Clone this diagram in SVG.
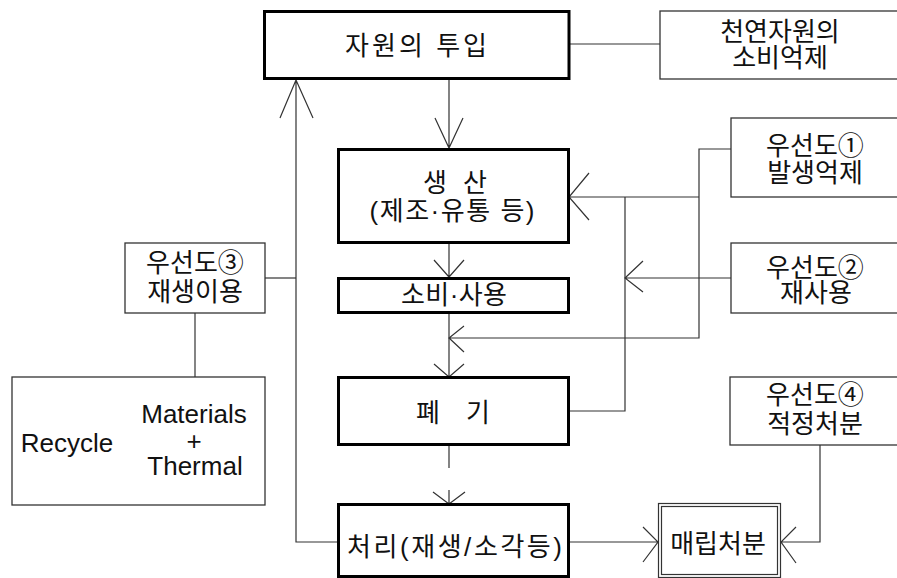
<svg xmlns="http://www.w3.org/2000/svg" width="897" height="578" viewBox="0 0 897 578">
<style>
.main{fill:#fff;stroke:#000;stroke-width:3}
.side{fill:#fff;stroke:#333;stroke-width:1.3}
.c{fill:none;stroke:#333;stroke-width:1.2}
text{font-family:"Liberation Sans","Noto Sans CJK KR",sans-serif;font-size:26px;fill:#111;text-anchor:middle}
</style>
<rect width="897" height="578" fill="#fff"/>
<g id="connectors">
  <path class="c" d="M570 44H660"/>
  <path class="c" d="M449 80V148M435 118L449 148L463 118"/>
  <path class="c" d="M449 243V277M434 260L449 277L464 260"/>
  <path class="c" d="M449 313V377M434 364L449 377L464 364"/>
  <path class="c" d="M449 445V468M449 490V504M433 492L449 504L465 492"/>
  <path class="c" d="M731 149H699V338H449M464 326L449 338L464 352"/>
  <path class="c" d="M699 197H569M589 173L569 197L589 220"/>
  <path class="c" d="M569 411H625V197"/>
  <path class="c" d="M731 278H625M643 261L625 278L643 292"/>
  <path class="c" d="M338 542H296V80M280 118L296 80L313 118"/>
  <path class="c" d="M265 278H296"/>
  <path class="c" d="M195 313V377"/>
  <path class="c" d="M569 542H658M643 527L658 542L643 562"/>
  <path class="c" d="M820 445V542H781M796 527L781 542L796 563"/>
</g>
<g id="n-input">
  <rect class="main" x="264.5" y="11.5" width="304.5" height="67"/>
  <text x="416" y="55" textLength="142" lengthAdjust="spacing">자원의 투입</text>
</g>
<g id="n-natural">
  <rect class="side" x="660" y="11" width="250" height="68"/>
  <text x="780" y="41">천연자원의</text>
  <text x="780" y="67">소비억제</text>
</g>
<g id="n-production">
  <rect class="main" x="338.5" y="149.5" width="230" height="93"/>
  <text x="455" y="192" textLength="64" lengthAdjust="spacing">생 산</text>
  <text x="452" y="220" textLength="165" lengthAdjust="spacing">(제조·유통 등)</text>
</g>
<g id="n-consumption">
  <rect class="main" x="338.5" y="278.5" width="230" height="34"/>
  <text x="454" y="304" textLength="106" lengthAdjust="spacing">소비·사용</text>
</g>
<g id="n-waste">
  <rect class="main" x="338.5" y="377.5" width="230" height="67"/>
  <text x="453" y="422" textLength="74" lengthAdjust="spacing">폐 기</text>
</g>
<g id="n-treatment">
  <rect class="main" x="338.5" y="504.5" width="230" height="72"/>
  <text x="454.5" y="556" textLength="215" lengthAdjust="spacing">처리(재생/소각등)</text>
</g>
<g id="n-landfill">
  <rect fill="#fff" stroke="#333" stroke-width="1.2" x="658.5" y="503.5" width="122" height="74"/>
  <rect fill="none" stroke="#333" stroke-width="1.2" x="661.5" y="506.5" width="116" height="68"/>
  <text x="718" y="553">매립처분</text>
</g>
<g id="n-p1">
  <rect class="side" x="731" y="118" width="180" height="79"/>
  <text x="815" y="155">우선도①</text>
  <text x="815" y="182">발생억제</text>
</g>
<g id="n-p2">
  <rect class="side" x="731" y="243" width="180" height="70"/>
  <text x="815" y="277">우선도②</text>
  <text x="816" y="302">재사용</text>
</g>
<g id="n-p3">
  <rect class="side" x="125" y="243" width="140" height="70"/>
  <text x="195" y="272">우선도③</text>
  <text x="195" y="301">재생이용</text>
</g>
<g id="n-recycle">
  <rect class="side" x="12" y="377" width="253" height="128"/>
  <text x="67" y="452">Recycle</text>
  <text x="194" y="423">Materials</text>
  <text x="194" y="450">+</text>
  <text x="195" y="475">Thermal</text>
</g>
<g id="n-p4">
  <rect class="side" x="730" y="377" width="180" height="68"/>
  <text x="815" y="404">우선도④</text>
  <text x="815" y="433">적정처분</text>
</g>
</svg>
